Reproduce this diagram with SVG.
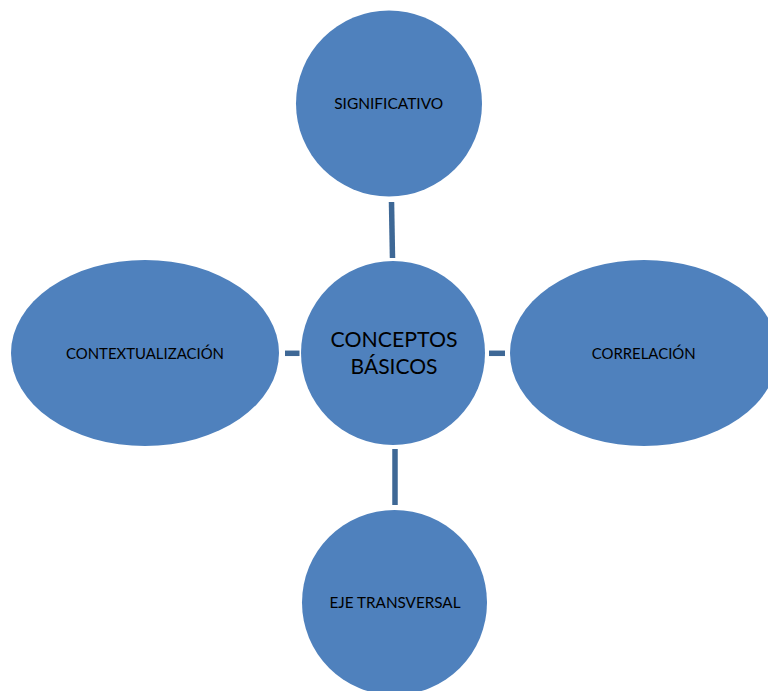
<svg xmlns="http://www.w3.org/2000/svg" width="768" height="691" viewBox="0 0 768 691">
<style>
.node{fill:#4F81BD;}
.lbl{font-family:Lato,"Liberation Sans",Arial,sans-serif;font-size:15px;fill:#000;text-anchor:middle;}
.big{font-size:20.5px;}
.conn{stroke:#3E6896;stroke-width:5.5;fill:none;}
</style>
<rect width="768" height="691" fill="#fff"/>
<g id="connectors">
<line class="conn" x1="391.5" y1="202" x2="392.5" y2="258"/>
<line class="conn" x1="285" y1="353.3" x2="299.5" y2="353.3"/>
<line class="conn" x1="489" y1="353.3" x2="505" y2="353.3"/>
<line class="conn" x1="395" y1="449" x2="395" y2="505"/>
</g>
<g id="center">
<circle class="node" cx="393" cy="353" r="92"/>
<text class="lbl big" x="394" y="346.7" textLength="127" lengthAdjust="spacingAndGlyphs">CONCEPTOS</text>
<text class="lbl big" x="394" y="374" textLength="87" lengthAdjust="spacingAndGlyphs">BÁSICOS</text>
</g>
<g id="significativo">
<circle class="node" cx="389" cy="103.5" r="93"/>
<text class="lbl" x="388.7" y="109.3" textLength="109" lengthAdjust="spacingAndGlyphs">SIGNIFICATIVO</text>
</g>
<g id="contextualizacion">
<ellipse class="node" cx="145" cy="353" rx="134" ry="93"/>
<text class="lbl" x="145" y="359.3" textLength="158" lengthAdjust="spacingAndGlyphs">CONTEXTUALIZACIÓN</text>
</g>
<g id="correlacion">
<ellipse class="node" cx="644" cy="353" rx="134" ry="93"/>
<text class="lbl" x="643.7" y="359.3" textLength="104" lengthAdjust="spacingAndGlyphs">CORRELACIÓN</text>
</g>
<g id="eje">
<circle class="node" cx="394.5" cy="602.5" r="92.5"/>
<text class="lbl" x="395" y="608.3" textLength="131" lengthAdjust="spacingAndGlyphs">EJE TRANSVERSAL</text>
</g>
</svg>
